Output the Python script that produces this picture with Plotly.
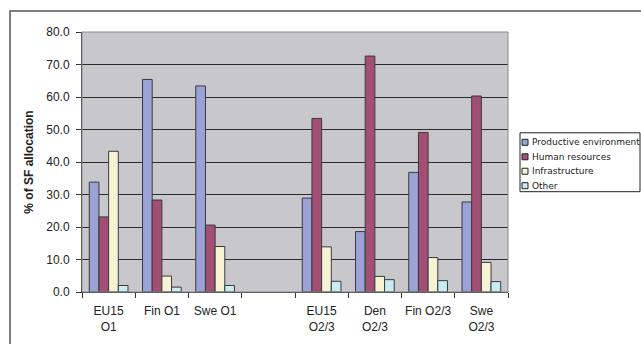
import plotly.graph_objects as go

categories = ["EU15<br>O1", "Fin O1", "Swe O1", " ", "EU15<br>O2/3", "Den<br>O2/3", "Fin O2/3", "Swe<br>O2/3"]
series_names = ["Productive environment", "Human resources", "Infrastructure", "Other"]
productive = [33.8, 65.4, 63.4, None, 28.9, 18.6, 36.8, 27.7]
human = [23.1, 28.3, 20.6, None, 53.4, 72.6, 49.1, 60.3]
infrastructure = [43.3, 4.9, 14.0, None, 13.9, 4.8, 10.6, 9.1]
other = [2.0, 1.5, 2.0, None, 3.3, 3.8, 3.5, 3.2]
y_ticks = [0, 10, 20, 30, 40, 50, 60, 70, 80]

colors = ["#9BA3D6", "#A34E74", "#F5F3D3", "#C9EBF3"]
values = [productive, human, infrastructure, other]

W, H = 641, 344
L, R, T, B = 82, 508, 32, 292.5

def px(x):
    return (x - L) / (R - L)

def py(y):
    return (B - y) / (B - T)

fig = go.Figure()
for name, vals, col in zip(series_names, values, colors):
    fig.add_trace(go.Bar(
        x=categories, y=vals, name=name,
        marker=dict(color=col, line=dict(color="#3a3a3a", width=1)),
        showlegend=False,
    ))

font = "Liberation Sans, Arial, sans-serif"
fig.update_layout(
    width=W, height=H,
    margin=dict(l=L, r=W - R, t=T, b=H - B, pad=0),
    paper_bgcolor="white",
    plot_bgcolor="#C8C8CC",
    barmode="group",
    bargap=0.273,
    bargroupgap=0,
    font=dict(family=font, size=12, color="#222"),
    xaxis=dict(
        type="category",
        categoryorder="array", categoryarray=categories,
        showline=True, linecolor="#333", linewidth=1,
        ticks="outside", tickson="boundaries", ticklen=5, tickcolor="#333",
        showgrid=False, tickangle=0, automargin=False,
        ticklabelstandoff=8,
        tickfont=dict(family=font, size=12, color="#222"),
    ),
    yaxis=dict(
        range=[0, 80], tickvals=y_ticks, tickformat=".1f",
        showline=True, linecolor="#333", linewidth=1,
        ticks="outside", ticklen=5, tickcolor="#333",
        showgrid=True, gridcolor="#2a2a2a", gridwidth=1,
        zeroline=False, automargin=False,
        ticklabelstandoff=4,
        tickfont=dict(family=font, size=12, color="#222"),
        title=dict(text="<b>% of SF allocation</b>", font=dict(family=font, size=12, color="#222"), standoff=10),
    ),
)

# plot area border (gray on right/top)
fig.add_shape(type="rect", xref="paper", yref="paper", x0=0, x1=1, y0=0, y1=1,
              line=dict(color="#8a8a8a", width=1), layer="above")
# outer chart frame
fig.add_shape(type="rect", xref="paper", yref="paper",
              x0=px(10), x1=px(700), y0=py(400), y1=py(11),
              line=dict(color="#555", width=1.5))

# manual legend
lx0, lx1, ly0, ly1 = 520, 640, 133, 192
fig.add_shape(type="rect", xref="paper", yref="paper",
              x0=px(lx0), x1=px(lx1), y0=py(ly1), y1=py(ly0),
              line=dict(color="#222", width=1), fillcolor="white")
for i, (name, col) in enumerate(zip(series_names, colors)):
    cy = 142.5 + i * 14.5
    fig.add_shape(type="rect", xref="paper", yref="paper",
                  x0=px(522), x1=px(528), y0=py(cy + 3), y1=py(cy - 3),
                  line=dict(color="#222", width=1), fillcolor=col)
    fig.add_annotation(xref="paper", yref="paper", x=px(530), y=py(cy),
                       text=name, showarrow=False, xanchor="left", yanchor="middle",
                       font=dict(family="DejaVu Sans, Verdana, sans-serif", size=9, color="#222"))

fig.write_html("out.html")
